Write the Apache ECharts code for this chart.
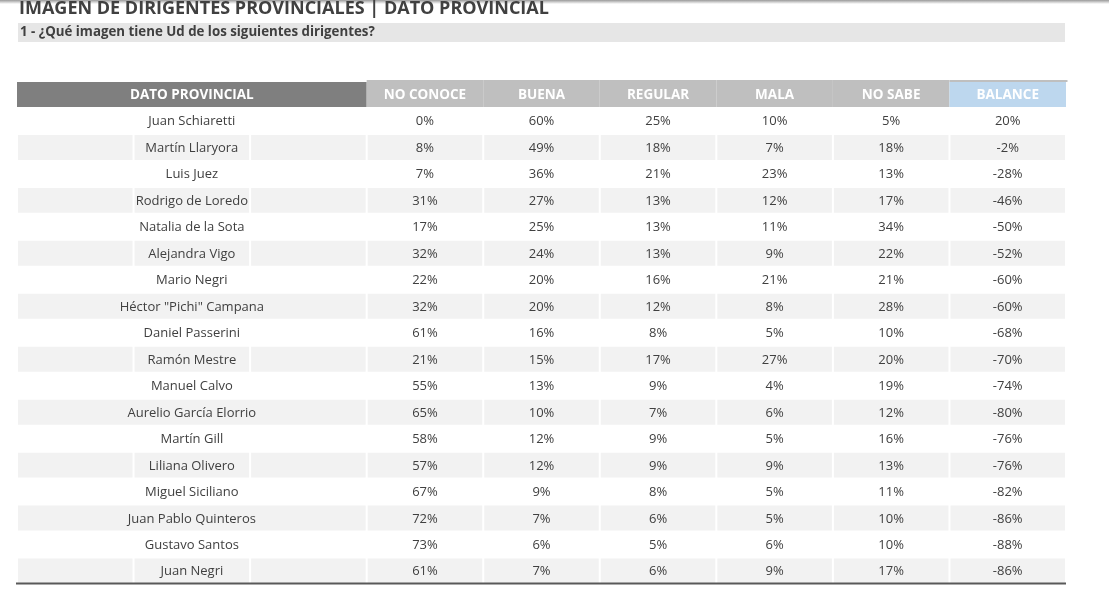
<!DOCTYPE html>
<html>
<head>
<meta charset="utf-8">
<script src="https://cdn.jsdelivr.net/npm/echarts@6/dist/echarts.min.js"></script>
<style>
  html, body { margin: 0; padding: 0; background: #fff; }
  #root { width: 1109px; height: 609px; }
</style>
</head>
<body>
<div id="root"></div>
<script>
// datos de la tabla
const headers = ['DATO PROVINCIAL', 'NO CONOCE', 'BUENA', 'REGULAR', 'MALA', 'NO SABE', 'BALANCE'];
const names = [
  'Juan Schiaretti', 'Martín Llaryora', 'Luis Juez', 'Rodrigo de Loredo', 'Natalia de la Sota',
  'Alejandra Vigo', 'Mario Negri', 'Héctor "Pichi" Campana', 'Daniel Passerini', 'Ramón Mestre',
  'Manuel Calvo', 'Aurelio García Elorrio', 'Martín Gill', 'Liliana Olivero', 'Miguel Siciliano',
  'Juan Pablo Quinteros', 'Gustavo Santos', 'Juan Negri'
];
const noConoce = [0, 8, 7, 31, 17, 32, 22, 32, 61, 21, 55, 65, 58, 57, 67, 72, 73, 61];
const buena    = [60, 49, 36, 27, 25, 24, 20, 20, 16, 15, 13, 10, 12, 12, 9, 7, 6, 7];
const regular  = [25, 18, 21, 13, 13, 13, 16, 12, 8, 17, 9, 7, 9, 9, 8, 6, 5, 6];
const mala     = [10, 7, 23, 12, 11, 9, 21, 8, 5, 27, 4, 6, 5, 9, 5, 5, 6, 9];
const noSabe   = [5, 18, 13, 17, 34, 22, 21, 28, 10, 20, 19, 12, 16, 13, 11, 10, 10, 17];
const balance  = [20, -2, -28, -46, -50, -52, -60, -60, -68, -70, -74, -80, -76, -76, -82, -86, -88, -86];

const FONT = '"Open Sans", sans-serif';
const TXT = '#404040';

// columnas del eje: el nombre ocupa 3 celdas
const xCats = ['n0', 'n1', 'n2', 'NO CONOCE', 'BUENA', 'REGULAR', 'MALA', 'NO SABE', 'BALANCE'];
const yCats = ['HEADER'].concat(names);
const valueCols = [noConoce, buena, regular, mala, noSabe, balance];

// medir texto para saber si el nombre desborda la celda del medio
const measureCtx = document.createElement('canvas').getContext('2d');
measureCtx.font = '12px ' + FONT;

let cells = [];
headers.forEach((h, i) => {
  cells.push({ x: i === 0 ? 0 : i + 2, y: 0, span: i === 0 ? 3 : 1, text: h, kind: 'head', col: i });
});
names.forEach((n, r) => {
  cells.push({ x: 0, y: r + 1, span: 3, text: n, kind: 'name', row: r });
  valueCols.forEach((arr, i) => {
    cells.push({ x: i + 3, y: r + 1, span: 1, text: arr[r] + '%', kind: 'val', row: r });
  });
});

let myChart = echarts.init(document.querySelector('#root'));

function renderItem(params, api) {
  const c = cells[params.dataIndex];
  const p = api.coord([api.value(0), api.value(1)]);
  const s = api.size([1, 1]);
  const left = p[0] - s[0] / 2;
  const top = p[1] - s[1] / 2;
  const w = s[0] * c.span;
  const children = [];

  if (c.kind === 'head') {
    if (c.col === 0) {
      children.push({ type: 'rect', shape: { x: left, y: top + 1, width: w, height: s[1] - 1.5 }, style: { fill: '#7f7f7f' } });
    } else if (c.col === 6) {
      children.push({ type: 'rect', shape: { x: left, y: top - 1, width: w + 1.5, height: 2 }, style: { fill: '#bfbfbf' } });
      children.push({ type: 'rect', shape: { x: left, y: top + 1, width: w, height: s[1] - 1.5 }, style: { fill: '#bdd7ee' } });
    } else {
      children.push({ type: 'rect', shape: { x: left, y: top - 1, width: w, height: s[1] + 0.5 }, style: { fill: '#bfbfbf' } });
    }
    children.push({
      type: 'text',
      style: { x: left + w / 2, y: top + s[1] / 2 + 1, text: c.text, fill: '#fff', font: 'bold 13.5px ' + FONT, align: 'center', verticalAlign: 'middle' }
    });
    return { type: 'group', children };
  }

  const gray = c.row % 2 === 1;
  if (gray) {
    let parts = 1;
    if (c.kind === 'name') {
      parts = measureCtx.measureText(c.text).width > s[0] - 4 ? 1 : 3;
    }
    const pw = w / parts;
    for (let k = 0; k < parts; k++) {
      children.push({ type: 'rect', shape: { x: left + k * pw + 1, y: top + 1, width: pw - 2, height: s[1] - 1.5 }, style: { fill: '#f2f2f2' } });
    }
  }
  children.push({
    type: 'text',
    style: { x: left + w / 2, y: p[1] + 1, text: c.text, fill: TXT, font: '13px ' + FONT, align: 'center', verticalAlign: 'middle' }
  });
  return { type: 'group', children };
}

let option = {
  animation: false,
  title: [
    { text: 'IMAGEN DE DIRIGENTES PROVINCIALES | DATO PROVINCIAL', left: 19, top: 0, padding: 0,
      textStyle: { fontFamily: FONT, fontSize: 18, fontWeight: 'bold', color: TXT } },
    { text: '1 - ¿Qué imagen tiene Ud de los siguientes dirigentes?', left: 20, top: 26, padding: 0,
      textStyle: { fontFamily: FONT, fontSize: 13.3, fontWeight: 'bold', color: TXT } }
  ],
  graphic: [
    { type: 'rect', z: -1, shape: { x: 0, y: 0, width: 1109, height: 4 },
      style: { fill: new echarts.graphic.LinearGradient(0, 0, 0, 1, [{ offset: 0, color: '#9a9a9a' }, { offset: 1, color: '#ffffff' }]) } },
    { type: 'rect', z: -1, shape: { x: 18, y: 23, width: 1047, height: 19 }, style: { fill: '#e6e6e6' } },
    { type: 'rect', z: 10, shape: { x: 16, y: 582.5, width: 1050, height: 2 }, style: { fill: '#595959' } }
  ],
  grid: { left: 17, right: 43, top: 81, bottom: 25 },
  xAxis: { type: 'category', data: xCats, show: false },
  yAxis: { type: 'category', data: yCats, inverse: true, show: false },
  series: [{
    type: 'custom',
    renderItem: renderItem,
    data: cells.map(c => [c.x, c.y]),
    silent: true
  }]
};

myChart.setOption(option);
</script>
</body>
</html>
